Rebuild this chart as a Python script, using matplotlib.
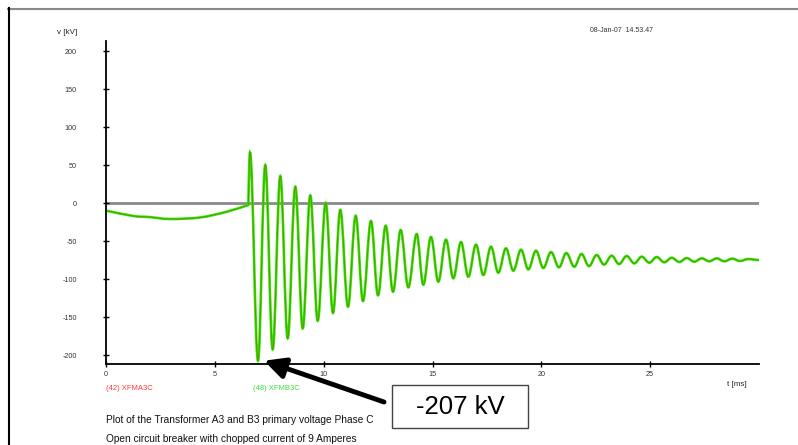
import matplotlib
matplotlib.use('Agg')
import matplotlib.pyplot as plt
from matplotlib.path import Path
from matplotlib.patches import PathPatch, Rectangle
from matplotlib.lines import Line2D

plt.rcParams['font.family'] = ['Liberation Sans', 'DejaVu Sans']

# ---------------- data ----------------
# smooth 50 Hz part before the chop
pre_t = [0.0, 1.24, 2.0, 2.94, 4.32, 5.54, 6.54]
pre_v = [-10.0, -17.0, -18.5, -21.0, -19.0, -11.5, -2.6]

# oscillation after current chopping: local maxima / minima
peak_t = [6.615, 7.318, 8.008, 8.697, 9.386, 10.093, 10.764, 11.471, 12.174, 12.850,
          13.539, 14.274, 14.931, 15.620, 16.309, 16.998, 17.687, 18.376, 19.066, 19.755,
          20.444, 21.147, 21.845, 22.543, 23.232, 23.921, 24.611, 25.300, 25.989, 26.678,
          27.367, 28.056, 28.773, 29.508]
peak_v = [66.7, 50.0, 35.5, 21.5, 10.0, 0.4, -9.0, -16.7, -23.7, -29.8,
          -35.5, -40.8, -44.7, -48.2, -51.3, -54.8, -57.5, -59.6, -61.4, -62.7,
          -64.5, -65.8, -67.0, -68.4, -69.3, -69.7, -70.6, -71.0, -72.0, -72.4,
          -72.8, -72.8, -73.2, -73.7]
trough_t = [6.983, 7.658, 8.347, 9.037, 9.726, 10.429, 11.118, 11.807, 12.496, 13.185,
            13.888, 14.577, 15.266, 15.956, 16.645, 17.334, 18.023, 18.712, 19.401, 20.090,
            20.811, 21.514, 22.190, 22.879, 23.568, 24.271, 24.960, 25.649, 26.338, 27.027,
            27.717, 28.406, 29.127]
trough_v = [-207.5, -192.5, -178.0, -165.0, -155.0, -144.7, -136.4, -129.0, -121.5, -116.7,
            -111.0, -107.5, -103.5, -99.0, -97.0, -94.7, -91.7, -89.0, -87.3, -85.5,
            -84.6, -83.8, -83.0, -81.0, -80.3, -79.4, -78.5, -78.0, -77.6, -77.2,
            -76.7, -76.7, -76.3]
end_t = 30.0
end_v = -75.0

series_labels = ['(42) XFMA3C', '(48) XFMB3C']
series_colors = ['#c02000', '#22ee00']
label_colors = ['#ff3b3b', '#3fdc3f']

x_ticks = [0, 5, 10, 15, 20, 25]
y_ticks = [-200, -150, -100, -50, 0, 50, 100, 150, 200]

peak_value_text = '-207 kV'
peak_point = (7.26, -207.5)
date_text = '08-Jan-07  14.53.47'
caption_lines = ['Plot of the Transformer A3 and B3 primary voltage Phase C',
                 'Open circuit breaker with chopped current of 9 Amperes']

# ---------------- build curve path ----------------
def build_path():
    verts = [(pre_t[0], pre_v[0])]
    codes = [Path.MOVETO]
    n = len(pre_t)
    for i in range(n - 1):
        p0 = (pre_t[max(i - 1, 0)], pre_v[max(i - 1, 0)])
        p1 = (pre_t[i], pre_v[i])
        p2 = (pre_t[i + 1], pre_v[i + 1])
        p3 = (pre_t[min(i + 2, n - 1)], pre_v[min(i + 2, n - 1)])
        c1 = (p1[0] + (p2[0] - p0[0]) / 6, p1[1] + (p2[1] - p0[1]) / 6)
        c2 = (p2[0] - (p3[0] - p1[0]) / 6, p2[1] - (p3[1] - p1[1]) / 6)
        verts += [c1, c2, p2]
        codes += [Path.CURVE4] * 3
    ext = []
    for i in range(len(peak_t)):
        ext.append((peak_t[i], peak_v[i]))
        if i < len(trough_t):
            ext.append((trough_t[i], trough_v[i]))
    t0, v0 = pre_t[-1], pre_v[-1]
    t1, v1 = ext[0]
    dt = t1 - t0
    verts += [(t0 + dt / 3, v0 + (v1 - v0) * 0.55), (t1 - dt / 3, v1), (t1, v1)]
    codes += [Path.CURVE4] * 3
    a = 0.3634
    for k in range(len(ext) - 1):
        (ta, va), (tb, vb) = ext[k], ext[k + 1]
        d = tb - ta
        verts += [(ta + a * d, va), (tb - a * d, vb), (tb, vb)]
        codes += [Path.CURVE4] * 3
    ta, va = ext[-1]
    d = end_t - ta
    verts += [(ta + a * d, va), (end_t - a * d, end_v), (end_t, end_v)]
    codes += [Path.CURVE4] * 3
    return Path(verts, codes)

W, H = 798, 445
fig = plt.figure(figsize=(W / 100, H / 100), dpi=100)
ax = fig.add_axes([106 / W, 1 - 364 / H, (759 - 106) / W, (364 - 41) / H])
ax.set_xlim(0, 30)
ax.set_ylim(-211.8, 213.2)

ax.axhline(0, color='#8a8a8a', lw=2.0, zorder=1)

path = build_path()
ax.add_patch(PathPatch(path, fill=False, edgecolor=series_colors[1], lw=1.9, zorder=2))
ax.add_patch(PathPatch(path, fill=False, edgecolor=series_colors[0], lw=0.7, alpha=0.45, zorder=3))

for s in ['top', 'right']:
    ax.spines[s].set_visible(False)
for s in ['left', 'bottom']:
    ax.spines[s].set_linewidth(1.3)
    ax.spines[s].set_color('black')

ax.set_xticks(x_ticks)
ax.set_yticks(y_ticks)
ax.set_xticklabels([str(v) for v in x_ticks])
ax.set_yticklabels([str(v) for v in y_ticks])
ax.tick_params(axis='both', direction='inout', length=4, width=1, labelsize=5.2,
               labelcolor='#333333', color='black')
ax.tick_params(axis='y', pad=19)
ax.tick_params(axis='x', pad=3)

def fx(x):
    return x / W

def fy(y):
    return 1 - y / H

fig.text(fx(57), fy(33), 'v [kV]', fontsize=5.8, color='#222222', va='center', ha='left')
fig.text(fx(727), fy(385), 't [ms]', fontsize=5.8, color='#222222', va='center', ha='left')
fig.text(fx(590), fy(31), date_text, fontsize=5.0, color='#333333', va='center', ha='left')

fig.text(fx(106), fy(388), series_labels[0], fontsize=5.5, color=label_colors[0], va='center', ha='left')
fig.text(fx(253), fy(388), series_labels[1], fontsize=5.5, color=label_colors[1], va='center', ha='left')

fig.text(fx(106), fy(420), caption_lines[0], fontsize=7.3, color='#111111', va='center', ha='left')
fig.text(fx(106), fy(439), caption_lines[1], fontsize=7.3, color='#111111', va='center', ha='left')

# page frame (top + left edge)
fig.add_artist(Line2D([fx(8), fx(797)], [fy(8.5), fy(8.5)], color='#888888', lw=1.5))
fig.add_artist(Line2D([fx(8.5), fx(8.5)], [fy(8), fy(445)], color='black', lw=1.5))

# annotation box + arrow
fig.add_artist(Rectangle((fx(391.7), fy(428.3)), (528.3 - 391.7) / W, (428.3 - 385) / H,
                         transform=fig.transFigure, facecolor='white', edgecolor='#444444', lw=1.0))
fig.text(fx(460), fy(407), peak_value_text, fontsize=18.5, color='black', ha='center', va='center')
ax.annotate('', xy=peak_point, xycoords='data', xytext=(384, H - 402), textcoords='figure pixels',
            arrowprops=dict(arrowstyle='-|>,head_length=0.9,head_width=0.45', color='black',
                            lw=3.5, shrinkA=0, shrinkB=0, mutation_scale=14),
            annotation_clip=False)

fig.savefig('out.png', dpi=100)
